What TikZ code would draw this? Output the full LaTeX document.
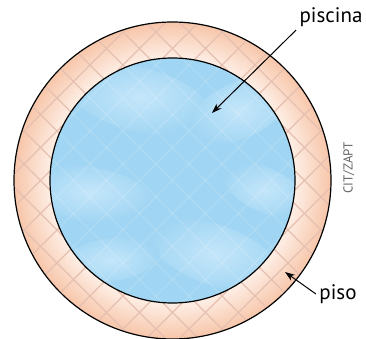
\documentclass[tikz,border=0pt]{standalone}
\usepackage{fontspec}
\setmainfont{PT Sans}
\usetikzlibrary{arrows.meta}
\definecolor{pisolight}{RGB}{254,241,233}
\definecolor{pisodark}{RGB}{247,198,170}
\definecolor{pisoline}{RGB}{229,192,176}
\definecolor{agua}{RGB}{160,213,243}
\definecolor{agualight}{RGB}{196,230,250}
\pgfdeclareradialshading{pisoshade}{\pgfpoint{0bp}{0bp}}{color(0bp)=(pisolight); color(19bp)=(pisolight); color(25bp)=(pisodark); color(50bp)=(pisodark)}

\begin{document}
\begin{tikzpicture}[x=1pt, y=-1pt, >={Stealth[length=10pt,width=7pt]},
    etiqueta/.style={font=\fontsize{21}{25}\selectfont},
    nube/.style={inner color=agualight, outer color=agua}]
            \useasboundingbox (0,0) rectangle (366,339);
            \coordinate (c) at (172.5,180.5);
            \coordinate (pool) at (212,113);
            \coordinate (floor) at (285,272);

            % piso
            \shade[shading=pisoshade] (c) circle (158.5pt);
            \begin{scope}
                \clip (c) circle (158.5pt);
                \foreach \k in {-363,-330,...,363} {
                    \draw[pisoline, line width=1.4pt] ([shift={(\k-200,-200)}]c) -- ([shift={(\k+200,200)}]c);
                    \draw[pisoline, line width=1.4pt] ([shift={(\k-200,200)}]c) -- ([shift={(\k+200,-200)}]c);
                }
            \end{scope}

            % piscina
            \fill[agua] (c) circle (122.5pt);
            \begin{scope}
                \clip (c) circle (122.5pt);
                \shade[nube, rotate around={-15:(140,100)}] (140,100) ellipse (75pt and 32pt);
                \shade[nube, rotate around={25:(240,110)}] (240,110) ellipse (55pt and 28pt);
                \shade[nube, rotate around={-10:(90,195)}] (90,195) ellipse (65pt and 28pt);
                \shade[nube, rotate around={-20:(215,255)}] (215,255) ellipse (70pt and 30pt);
                \shade[nube, rotate around={10:(110,260)}] (110,260) ellipse (50pt and 22pt);
                \shade[nube, rotate around={-25:(265,190)}] (265,190) ellipse (45pt and 22pt);
                \foreach \k in {-363,-330,...,363} {
                    \draw[white, opacity=0.15, line width=1.2pt] ([shift={(\k-200,-200)}]c) -- ([shift={(\k+200,200)}]c);
                    \draw[white, opacity=0.15, line width=1.2pt] ([shift={(\k-200,200)}]c) -- ([shift={(\k+200,-200)}]c);
                }
            \end{scope}

            \draw[line width=1.2pt] (c) circle (158.5pt);
            \draw[line width=1.2pt] (c) circle (122.5pt);

            \node[etiqueta] (piscina) at (331,17) {piscina};
            \node[etiqueta] (piso) at (338,294) {piso};
            \node[rotate=90, text=black!60, font=\fontsize{13}{15}\selectfont] (credito) at (349,168) {CIT/ZAPT};

            \draw[->, line width=1pt] (piscina.south west) -- (pool);
            \draw[->, line width=1pt] (piso.west) -- (floor);
        \end{tikzpicture}
\end{document}
